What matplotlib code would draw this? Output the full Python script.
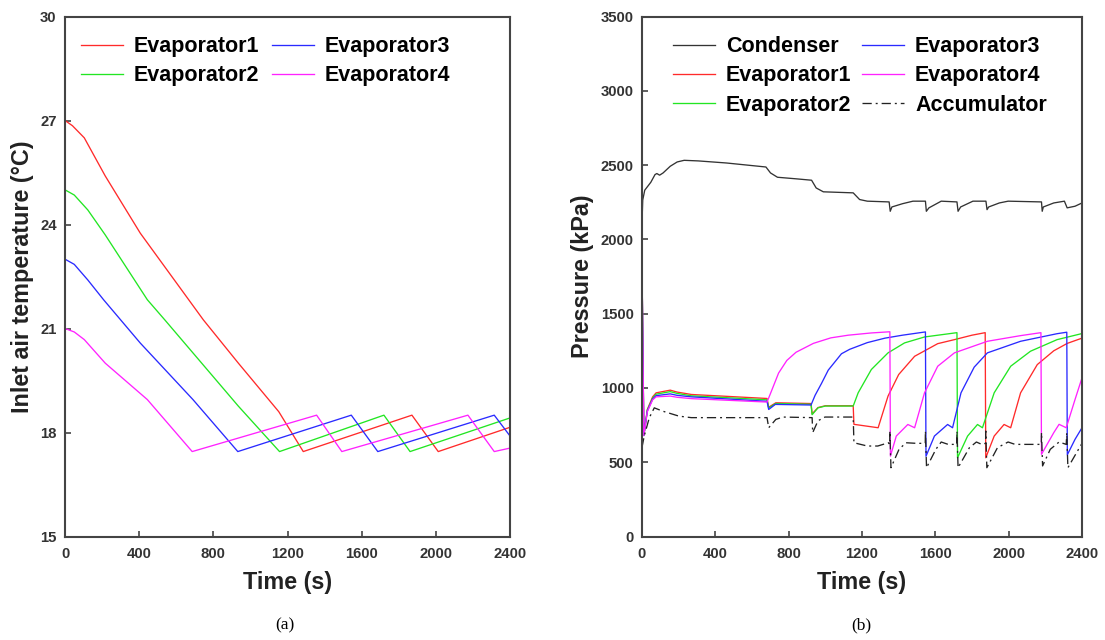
import matplotlib
matplotlib.use("Agg")
import matplotlib.pyplot as plt

# ---------------- Panel (a): inlet air temperature ----------------
a_evap1_t = [0, 40, 104, 217, 406, 746, 935, 1153, 1285, 1871, 2013, 2400]
a_evap1_T = [27.0, 26.85, 26.5, 25.4, 23.75, 21.25, 20.0, 18.6, 17.45, 18.5, 17.45, 18.15]
a_evap2_t = [0, 50, 123, 217, 444, 538, 935, 1157, 1720, 1861, 2400]
a_evap2_T = [25.0, 24.85, 24.42, 23.7, 21.83, 21.25, 18.76, 17.45, 18.5, 17.45, 18.42]
a_evap3_t = [0, 50, 123, 208, 406, 690, 932, 1544, 1687, 2315, 2400]
a_evap3_T = [23.0, 22.85, 22.4, 21.83, 20.58, 18.95, 17.45, 18.5, 17.45, 18.5, 17.9]
a_evap4_t = [0, 50, 104, 217, 444, 686, 1357, 1493, 2173, 2315, 2400]
a_evap4_T = [21.0, 20.9, 20.68, 20.0, 18.95, 17.45, 18.5, 17.45, 18.5, 17.45, 17.55]

a_xticks = [0, 400, 800, 1200, 1600, 2000, 2400]
a_yticks = [15, 18, 21, 24, 27, 30]

# ---------------- Panel (b): pressure ----------------
cond_t = [0, 1, 4, 15, 48, 71, 81, 96, 115, 154, 192, 230, 307, 461, 676, 701, 739, 845, 925, 950,
          989, 1152, 1187, 1229, 1348, 1354, 1363, 1421, 1478, 1546, 1551, 1565, 1632, 1718, 1724,
          1738, 1805, 1876, 1882, 1891, 1949, 1997, 2179, 2183, 2189, 2246, 2304, 2319, 2362, 2400]
cond_P = [450, 2150, 2265, 2331, 2384, 2436, 2443, 2432, 2447, 2492, 2521, 2532, 2528, 2514, 2487, 2447,
          2418, 2407, 2398, 2346, 2320, 2313, 2268, 2257, 2252, 2189, 2218, 2240, 2257, 2257, 2189,
          2212, 2257, 2252, 2189, 2218, 2257, 2257, 2200, 2218, 2245, 2257, 2252, 2189, 2218, 2245,
          2257, 2212, 2223, 2245]

e1_t = [0, 10, 29, 58, 77, 154, 192, 269, 682, 691, 730, 922, 928, 960, 1000, 1152, 1156, 1288,
        1342, 1400, 1487, 1613, 1704, 1800, 1872, 1875, 1921, 1975, 2011, 2065, 2156, 2246, 2320, 2400]
e1_P = [1820, 680, 855, 940, 967, 985, 972, 956, 929, 870, 900, 895, 825, 868, 880, 880, 755, 732,
        945, 1090, 1213, 1298, 1325, 1355, 1372, 530, 676, 754, 732, 967, 1157, 1250, 1300, 1335]

e2_t = [0, 10, 29, 58, 77, 154, 192, 269, 682, 691, 730, 922, 928, 960, 1000, 1152, 1179, 1251,
        1342, 1432, 1541, 1718, 1721, 1776, 1830, 1857, 1921, 2011, 2119, 2264, 2400]
e2_P = [1820, 680, 850, 932, 958, 975, 963, 947, 920, 865, 895, 890, 820, 866, 878, 878, 967, 1124,
        1236, 1303, 1343, 1372, 530, 676, 754, 732, 967, 1146, 1247, 1325, 1366]

e3_t = [0, 10, 29, 58, 77, 154, 192, 269, 682, 691, 727, 922, 944, 979, 1016, 1088, 1133, 1229,
        1325, 1421, 1546, 1549, 1595, 1667, 1694, 1740, 1812, 1884, 2065, 2264, 2317, 2320, 2362, 2400]
e3_P = [1820, 680, 845, 925, 948, 960, 950, 940, 910, 855, 889, 885, 950, 1030, 1120, 1230, 1260, 1305,
        1335, 1355, 1377, 540, 676, 754, 732, 967, 1140, 1236, 1314, 1365, 1375, 550, 654, 732]

e4_t = [0, 10, 29, 58, 77, 154, 192, 269, 682, 700, 745, 790, 840, 935, 1030, 1125, 1250, 1352,
        1355, 1387, 1450, 1487, 1541, 1613, 1704, 1884, 2065, 2176, 2179, 2246, 2275, 2314, 2362, 2400]
e4_P = [1820, 680, 840, 920, 940, 945, 937, 928, 905, 960, 1100, 1185, 1240, 1300, 1337, 1355, 1370, 1378,
        541, 676, 754, 732, 967, 1146, 1236, 1314, 1352, 1372, 553, 699, 755, 732, 922, 1068]

acc_t = [0, 12, 40, 67, 112, 202, 269, 682, 691, 730, 768, 928, 931, 960, 998, 1152, 1156, 1229, 1286,
         1344, 1351, 1352, 1358, 1402, 1440, 1498, 1545, 1546, 1552, 1603, 1632, 1670, 1717, 1718, 1724,
         1786, 1824, 1853, 1874, 1875, 1881, 1939, 1997, 2035, 2178, 2179, 2185, 2227, 2275, 2314, 2317,
         2323, 2381, 2400]
acc_P = [600, 676, 800, 866, 844, 810, 800, 800, 732, 788, 804, 800, 699, 779, 804, 804, 631, 609, 609,
         631, 620, 710, 463, 587, 631, 627, 627, 710, 463, 587, 636, 620, 620, 710, 463,
         598, 636, 620, 627, 710, 463, 598, 636, 620, 620, 700, 475, 587, 636, 620, 700,
         463, 587, 627]

b_xticks = [0, 400, 800, 1200, 1600, 2000, 2400]
b_yticks = [0, 500, 1000, 1500, 2000, 2500, 3000, 3500]

RED, GREEN, BLUE, MAG = "#ff2a2a", "#22e622", "#2a2aff", "#ff22ff"

plt.rcParams["font.family"] = ["Liberation Sans", "DejaVu Sans"]

W, H = 1105, 640
fig = plt.figure(figsize=(W / 100, H / 100), dpi=100)

def style(ax, xt, yt):
    for s in ax.spines.values():
        s.set_linewidth(1.5)
        s.set_color("#444444")
    ax.set_xticks(xt)
    ax.set_yticks(yt)
    ax.tick_params(direction="in", length=4, width=1.2, color="#444444",
                   labelsize=10.7, labelcolor="#333333", top=False, right=False)
    ax.tick_params(axis="x", pad=7.5)
    ax.tick_params(axis="y", pad=6)
    for lab in ax.get_xticklabels() + ax.get_yticklabels():
        lab.set_fontweight("bold")

leg_kw = dict(ncol=2, loc="upper left", frameon=False, borderpad=0, borderaxespad=0,
              handlelength=1.95, handletextpad=0.5, labelspacing=0.38,
              prop={"size": 15.5, "weight": "bold"})

lw = 0.95

# panel a
ax1 = fig.add_axes([65 / W, (H - 536.5) / H, 445 / W, 520 / H])
ax1.plot(a_evap1_t, a_evap1_T, color=RED, lw=lw, label="Evaporator1")
ax1.plot(a_evap2_t, a_evap2_T, color=GREEN, lw=lw, label="Evaporator2")
ax1.plot(a_evap3_t, a_evap3_T, color=BLUE, lw=lw, label="Evaporator3")
ax1.plot(a_evap4_t, a_evap4_T, color=MAG, lw=lw, label="Evaporator4")
ax1.set_xlim(0, 2400)
ax1.set_ylim(15, 30)
style(ax1, a_xticks, a_yticks)
ax1.set_xlabel("Time (s)", fontsize=16.8, fontweight="bold", color="#222222", labelpad=7)
ax1.set_ylabel("Inlet air temperature (\u00b0C)", fontsize=16.8, fontweight="bold",
               color="#222222", labelpad=4)
ax1.legend(bbox_to_anchor=(0.035, 0.962), columnspacing=0.6, **leg_kw)

# panel b
ax2 = fig.add_axes([642 / W, (H - 536.5) / H, 440 / W, 520 / H])
ax2.plot(cond_t, cond_P, color="#333333", lw=lw, label="Condenser")
ax2.plot(e1_t, e1_P, color=RED, lw=lw, label="Evaporator1")
ax2.plot(e2_t, e2_P, color=GREEN, lw=lw, label="Evaporator2")
ax2.plot(e3_t, e3_P, color=BLUE, lw=lw, label="Evaporator3")
ax2.plot(e4_t, e4_P, color=MAG, lw=lw, label="Evaporator4")
ax2.plot(acc_t, acc_P, color="#222222", lw=lw, linestyle=(0, (7, 3, 1.5, 3)), label="Accumulator")
ax2.set_xlim(0, 2400)
ax2.set_ylim(0, 3500)
style(ax2, b_xticks, b_yticks)
ax2.set_xlabel("Time (s)", fontsize=16.8, fontweight="bold", color="#222222", labelpad=7)
ax2.set_ylabel("Pressure (kPa)", fontsize=16.8, fontweight="bold", color="#222222", labelpad=5)
ax2.legend(bbox_to_anchor=(0.071, 0.962), columnspacing=0.5, **leg_kw)

fig.text(284.6 / W, 1 - 625 / H, "(a)", ha="center", va="center", fontsize=12.5,
         family=["Liberation Serif", "DejaVu Serif"])
fig.text(861 / W, 1 - 625 / H, "(b)", ha="center", va="center", fontsize=12.5,
         family=["Liberation Serif", "DejaVu Serif"])

fig.savefig("out.png", dpi=100)
